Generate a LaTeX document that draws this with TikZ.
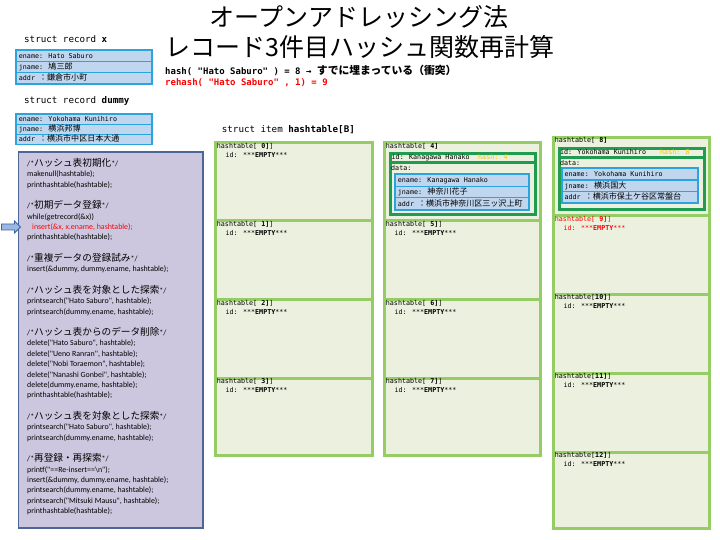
\documentclass[tikz,border=0pt]{standalone}
\usepackage{fontspec}
\usetikzlibrary{shapes.arrows}
\setmainfont{DejaVu Sans Mono}
\newfontfamily\monof{DejaVu Sans Mono}
\newfontfamily\jpf[Scale=1.2]{Noto Sans CJK JP}
\newfontfamily\jpcf[Scale=1.22]{Noto Sans CJK JP}
\newfontfamily\titlef{Noto Sans CJK JP}
\newfontfamily\codef{Carlito}
\newcommand\J[1]{{\jpf #1}}
\newcommand\JC[1]{{\jpcf #1}}
\definecolor{cellfill}{HTML}{EBF1DE}
\definecolor{cellline}{HTML}{96CC64}
\definecolor{dkgreen}{HTML}{1E9C50}
\definecolor{recblue}{HTML}{2BA3DC}
\definecolor{rowblue}{HTML}{C0D6EF}
\definecolor{panelfill}{HTML}{CCC7DF}
\definecolor{panelline}{HTML}{4E6696}
\definecolor{hashor}{HTML}{FFC000}
\definecolor{redtxt}{HTML}{FF0000}
\definecolor{arrowline}{HTML}{3A64A8}
\definecolor{arrowfill}{HTML}{9DB8E0}
\tikzset{
  cell/.style={draw=cellline, fill=cellfill, line width=3pt, inner sep=0pt, anchor=north west},
  ctxt/.style={anchor=base west, inner sep=0pt, font=\monof\fontsize{6.7}{8}\selectfont},
  rtxt/.style={anchor=base west, inner sep=0pt, font=\monof\fontsize{6.7}{8}\selectfont},
  codeline/.style={anchor=base west, inner sep=0pt, font=\codef\fontsize{7.9}{9}\selectfont},
  structlbl/.style={anchor=base west, inner sep=0pt, font=\monof\fontsize{9.2}{11}\selectfont},
  dkbox/.style={draw=dkgreen, fill=cellfill, line width=3pt},
}
% empty hashtable cell: name, x1, y1, x2, y2, index, colour
\newcommand\ECell[7]{%
  \node[cell, minimum width={#4-#2}, minimum height={#5-#3}] (#1) at (#2,#3) {};
  \node[ctxt, text=#7] (#1h) at (#2+2.5,#3+7.2) {hashtable[\textbf{#6}]};
  \node[ctxt, text=#7] (#1i) at (#2+11.2,#3+16.2) {id: ***\textbf{EMPTY}***};
}
% record box: name, x1, y1, x2, y2, row1, row2, row3
\newcommand\RecBox[8]{%
  \pgfmathsetmacro\rh{(#5-#3-6)/3}%
  \fill[recblue] (#2,#3) rectangle (#4,#5);
  \fill[rowblue] (#2+1.8,#3+1.8) rectangle (#4-1.8,#3+1.8+\rh);
  \fill[rowblue] (#2+1.8,#3+3+\rh) rectangle (#4-1.8,#3+3+2*\rh);
  \fill[rowblue] (#2+1.8,#3+4.2+2*\rh) rectangle (#4-1.8,#5-1.8);
  \node[rtxt] (#1a) at (#2+3.7,#3+1.8+0.5*\rh+2.4) {#6};
  \node[rtxt] (#1b) at (#2+3.7,#3+3+1.5*\rh+2.4) {#7};
  \node[rtxt] (#1c) at (#2+3.7,#3+4.2+2.5*\rh+2.4) {#8};
}
\begin{document}
\begin{tikzpicture}[x=1pt,y=-1pt]
\useasboundingbox (0,0) rectangle (720,540);
\fill[white] (0,0) rectangle (720,540);

% ---------- title ----------
\node[anchor=base, inner sep=0pt, font=\titlef\fontsize{25}{25}\selectfont] (t1) at (359,27) {オープンアドレッシング法};
\node[anchor=base, inner sep=0pt, font=\titlef\fontsize{25}{25}\selectfont] (t2) at (360,57) {レコード3件目ハッシュ関数再計算};
\node[anchor=base west, inner sep=0pt, font=\monof\bfseries\fontsize{9}{10}\selectfont] (hl) at (165,75)
  {hash( "Hato Saburo" ) = 8 → \J{すでに埋まっている（衝突）}};
\node[anchor=base west, inner sep=0pt, text=redtxt, font=\monof\bfseries\fontsize{9}{10}\selectfont] (rl) at (165,85.3)
  {rehash( "Hato Saburo" , 1) = 9};

% ---------- records ----------
\node[structlbl] (sx) at (24,42.6) {struct record \textbf{x}};
\RecBox{rx}{15}{49.3}{152.7}{85}{ename: Hato Saburo}{jname: \J{鳩三郎}}{addr \J{：鎌倉市小町}}
\node[structlbl] (sd) at (24,103.3) {struct record \textbf{dummy}};
\RecBox{rd}{15}{113}{152.7}{145.5}{ename: Yokohama Kunihiro}{jname: \J{横浜邦博}}{addr \J{：横浜市中区日本大通}}

% ---------- code panel ----------
\node[draw=panelline, fill=panelfill, line width=1.8pt, anchor=north west, inner sep=0pt,
      minimum width=184.2, minimum height=376.4] (panel) at (17.6,151) {};
\node[single arrow, draw=arrowline, fill=arrowfill, line width=0.8pt, minimum height=19pt,
      inner xsep=0pt, inner ysep=2.6pt, single arrow head extend=3pt] (arr) at (9.5,227) {};
\node[codeline] (c1) at (27,166.3) {/*\JC{ハッシュ表初期化}*/};
\node[codeline] (c2) at (27,176.7) {makenull(hashtable);};
\node[codeline] (c3) at (27,187.1) {printhashtable(hashtable);};
\node[codeline] (c4) at (27,208.6) {/*\JC{初期データ登録}*/};
\node[codeline] (c5) at (27,219.0) {while(getrecord(\&x))};
\node[codeline, text=redtxt] (c6) at (32,229.4) {insert(\&x, x.ename, hashtable);};
\node[codeline] (c7) at (27,239.8) {printhashtable(hashtable);};
\node[codeline] (c8) at (27,261.3) {/*\JC{重複データの登録試み}*/};
\node[codeline] (c9) at (27,271.7) {insert(\&dummy, dummy.ename, hashtable);};
\node[codeline] (c10) at (27,293.2) {/*\JC{ハッシュ表を対象とした探索}*/};
\node[codeline] (c11) at (27,303.6) {printsearch("Hato Saburo", hashtable);};
\node[codeline] (c12) at (27,314.0) {printsearch(dummy.ename, hashtable);};
\node[codeline] (c13) at (27,335.5) {/*\JC{ハッシュ表からのデータ削除}*/};
\node[codeline] (c14) at (27,345.9) {delete("Hato Saburo", hashtable);};
\node[codeline] (c15) at (27,356.3) {delete("Ueno Ranran", hashtable);};
\node[codeline] (c16) at (27,366.7) {delete("Nobi Toraemon", hashtable);};
\node[codeline] (c17) at (27,377.1) {delete("Nanashi Gonbei", hashtable);};
\node[codeline] (c18) at (27,387.5) {delete(dummy.ename, hashtable);};
\node[codeline] (c19) at (27,397.9) {printhashtable(hashtable);};
\node[codeline] (c20) at (27,419.4) {/*\JC{ハッシュ表を対象とした探索}*/};
\node[codeline] (c21) at (27,429.8) {printsearch("Hato Saburo", hashtable);};
\node[codeline] (c22) at (27,440.2) {printsearch(dummy.ename, hashtable);};
\node[codeline] (c23) at (27,461.7) {/*\JC{再登録・再探索}*/};
\node[codeline] (c24) at (27,472.1) {printf("==Re-insert==\textbackslash n");};
\node[codeline] (c25) at (27,482.5) {insert(\&dummy, dummy.ename, hashtable);};
\node[codeline] (c26) at (27,492.9) {printsearch(dummy.ename, hashtable);};
\node[codeline] (c27) at (27,503.3) {printsearch("Mitsuki Mausu", hashtable);};
\node[codeline] (c28) at (27,513.7) {printhashtable(hashtable);};

% ---------- hash table ----------
\node[structlbl] (si) at (221.7,132.6) {struct item \textbf{hashtable[B]}};
% column 1
\ECell{h0}{214.2}{141.5}{370.8}{219.3}{ 0]}{black}
\ECell{h1}{214.2}{219.3}{370.8}{298.3}{ 1]}{black}
\ECell{h2}{214.2}{298.3}{370.8}{376.7}{ 2]}{black}
\ECell{h3}{214.2}{376.7}{370.8}{454.2}{ 3]}{black}
% column 2
\node[cell, minimum width=156, minimum height=77.8] (h4) at (383.2,141.5) {};
\node[ctxt] (h4h) at (385.7,148.7) {hashtable[\textbf{ 4]}};
\node[dkbox, anchor=north west, inner sep=0pt, minimum width=144.3, minimum height=60.3] (h4d) at (389.2,152.5) {};
\draw[dkgreen, line width=3pt] (h4d.west |- 0,162.7) coordinate (h4l) -- (h4d.east |- 0,162.7) coordinate (h4r);
\node[ctxt] (h4id) at (391.5,160) {id: Kanagawa Hanako};
\node[ctxt, text=hashor] (h4hs) at (478,160) {hash: 4};
\node[ctxt] (h4data) at (391,171) {data:};
\RecBox{h4r}{394}{173.3}{530}{210.7}{ename: Kanagawa Hanako}{jname: \J{神奈川花子}}{addr \J{：横浜市神奈川区三ッ沢上町}}
\ECell{h5}{383.2}{219.3}{539.2}{298.3}{ 5]}{black}
\ECell{h6}{383.2}{298.3}{539.2}{376.7}{ 6]}{black}
\ECell{h7}{383.2}{376.7}{539.2}{454.2}{ 7]}{black}
% column 3
\node[cell, minimum width=155.3, minimum height=77.8] (h8) at (552.2,136.5) {};
\node[ctxt] (h8h) at (554.7,142.8) {hashtable[\textbf{ 8]}};
\node[dkbox, anchor=north west, inner sep=0pt, minimum width=145.3, minimum height=61] (h8d) at (557.5,147.5) {};
\draw[dkgreen, line width=3pt] (h8d.west |- 0,157.3) coordinate (h8l) -- (h8d.east |- 0,157.3) coordinate (h8r);
\node[ctxt] (h8id) at (559.8,154.7) {id: Yokohama Kunihiro};
\node[ctxt, text=hashor] (h8hs) at (660,154.7) {hash: 8};
\node[ctxt] (h8data) at (559.8,165.7) {data:};
\RecBox{h8r}{560.7}{167.3}{699}{204}{ename: Yokohama Kunihiro}{jname: \J{横浜国大}}{addr \J{：横浜市保土ケ谷区常盤台}}
\ECell{h9}{552.2}{214.3}{707.5}{292.7}{ 9]}{redtxt}
\ECell{h10}{552.2}{292.7}{707.5}{371.7}{10]}{black}
\ECell{h11}{552.2}{371.7}{707.5}{450.7}{11]}{black}
\ECell{h12}{552.2}{450.7}{707.5}{527.2}{12]}{black}
\end{tikzpicture}
\end{document}
